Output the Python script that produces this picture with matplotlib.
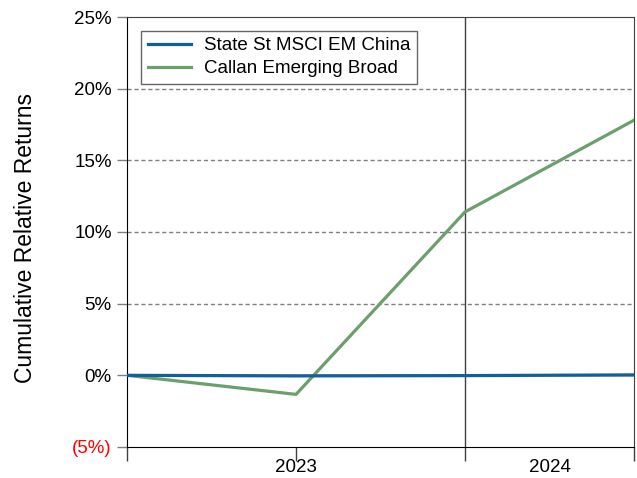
import numpy as np
import matplotlib.pyplot as plt

plt.rcParams['font.family'] = ['Liberation Sans', 'DejaVu Sans']

# Periods: start, mid-2023, end-2023, mid-2024
x_pos = [0, 1, 2, 3]
state_st = [0.0, -0.04, -0.02, 0.03]
callan = [0.0, -1.33, 11.4, 17.8]
series_names = ['State St MSCI EM China', 'Callan Emerging Broad']
year_labels = ['2023', '2024']
year_label_pos = [1, 2.5]
y_ticks = [-5, 0, 5, 10, 15, 20, 25]
y_labels = ['(5%)', '0%', '5%', '10%', '15%', '20%', '25%']

fig = plt.figure(figsize=(6.37, 4.78), dpi=100)
ax = fig.add_axes([0.1994, 0.0649, 0.7959, 0.8995])

# gridlines
for yv in [5, 10, 15, 20]:
    ax.axhline(yv, color='#808080', linestyle=(0, (3, 2)), linewidth=1, zorder=1)
ax.axhline(0, color='black', linewidth=1, zorder=1)
ax.axvline(2, color='#404040', linewidth=1, zorder=1)

ax.plot(x_pos, state_st, color='#10609c', linewidth=2.3, label=series_names[0], zorder=3)
ax.plot(x_pos, callan, color='#6b9f6b', linewidth=2.3, label=series_names[1], zorder=2)

ax.set_xlim(0, 3)
ax.set_ylim(-5, 25)

ax.set_yticks(y_ticks)
ax.set_yticklabels(y_labels, fontsize=13.5)
ax.tick_params(axis='y', length=7, width=1, color='#808080', pad=4)
ax.get_yticklabels()[0].set_color('red')

# year labels centred on their spans, boundary ticks as minor
ax.xaxis.remove_overlapping_locs = False
ax.set_xticks(year_label_pos)
ax.set_xticklabels(year_labels, fontsize=13.5)
ax.tick_params(axis='x', which='major', length=0, pad=9)
ax.set_xticks([0, 1, 2, 3], minor=True)
ax.tick_params(axis='x', which='minor', length=10, width=1, color='#404040')

for side in ['top', 'right']:
    ax.spines[side].set_color('#404040')
ax.spines['left'].set_color('black')
ax.spines['bottom'].set_color('black')

ax.set_ylabel('Cumulative Relative Returns', fontsize=16.5, va='center')
ax.yaxis.set_label_coords(-0.2, 0.485)

leg = ax.legend(loc='upper left', bbox_to_anchor=(0.01, 0.99), fontsize=13.5,
                frameon=True, fancybox=False, edgecolor='#404040',
                handlelength=2.3, borderpad=0.35, labelspacing=0.3,
                handletextpad=0.7)
leg.get_frame().set_linewidth(1)

fig.savefig('out.png', dpi=100)
